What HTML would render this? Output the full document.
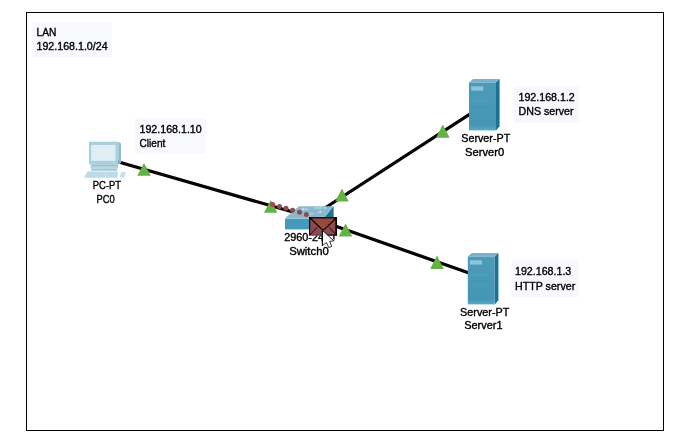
<!DOCTYPE html>
<html>
<head>
<meta charset="utf-8">
<title>LAN topology</title>
<style>
html,body{margin:0;padding:0;background:#fff;}
body{width:696px;height:447px;overflow:hidden;}
svg{display:block;}
text{font-family:"Liberation Sans",sans-serif;font-size:10.67px;fill:#000;stroke:#000;stroke-width:0.36px;filter:grayscale(1);}
</style>
</head>
<body>
<svg width="696" height="447" viewBox="0 0 696 447">
  <defs>
    <linearGradient id="srvF" x1="0" y1="0" x2="0" y2="1">
      <stop offset="0" stop-color="#4b9bb9"/>
      <stop offset="0.9" stop-color="#4596b5"/>
      <stop offset="1" stop-color="#5aa9c7"/>
    </linearGradient>
    <linearGradient id="envF" x1="0" y1="0" x2="0" y2="1">
      <stop offset="0" stop-color="#93483f"/>
      <stop offset="1" stop-color="#9a4c3c"/>
    </linearGradient>
    </defs>
  <rect width="696" height="447" fill="#fff"/>
  <!-- frame -->
  <rect x="26.5" y="12.5" width="637" height="418" fill="none" stroke="#000" stroke-width="1"/>

  <!-- note boxes -->
  <rect x="32" y="22" width="80" height="35" fill="#f8f9fd"/>
  <text x="36.5" y="35.5" textLength="19.9" lengthAdjust="spacingAndGlyphs">LAN</text>
  <text x="36.5" y="50">192.168.1.0/24</text>

  <rect x="135" y="118" width="71" height="36" fill="#f8f9fd"/>
  <text x="139.5" y="132.5">192.168.1.10</text>
  <text x="139.5" y="147" textLength="25.8" lengthAdjust="spacingAndGlyphs">Client</text>

  <rect x="514" y="86" width="65" height="37" fill="#f8f9fd"/>
  <text x="518.5" y="100.8">192.168.1.2</text>
  <text x="518.5" y="115.3">DNS server</text>

  <rect x="511.5" y="259.5" width="67.5" height="37.5" fill="#f8f9fd"/>
  <text x="515" y="275">192.168.1.3</text>
  <text x="515" y="289.5">HTTP server</text>

  <!-- links -->
  <g stroke="#070303" stroke-width="3.25" stroke-linecap="butt">
    <line x1="104.75" y1="158" x2="309.5" y2="216.8"/>
    <line x1="309.5" y1="218" x2="484.5" y2="104.7"/>
    <line x1="309.5" y1="217" x2="483.3" y2="278"/>
  </g>

  <!-- link lights -->
  <g fill="#62b246">
    <polygon points="144,163 150.8,175.8 137.2,175.8"/>
    <polygon points="270.7,200 277.5,212.8 263.9,212.8"/>
    <polygon points="342,188.5 348.8,201.6 335.2,201.6"/>
    <polygon points="442.8,124.4 449.6,137.8 436,137.8"/>
    <polygon points="345.5,223.6 352.3,236.4 338.7,236.4"/>
    <polygon points="437,255.5 443.8,268.9 430.2,268.9"/>
  </g>

  <!-- PC -->
  <g>
    <!-- monitor side -->
    <polygon points="118.3,141.7 121,143.5 121,163 118.3,164.5" fill="#8bbccd"/>
    <!-- monitor front -->
    <rect x="89" y="141.7" width="29.3" height="22.8" fill="#a9d0de"/>
    <rect x="91.2" y="145" width="24.3" height="15.8" fill="#e2eef6"/>
    <!-- stand -->
    <rect x="91.2" y="164.5" width="26.8" height="2.2" fill="#8fc0d2"/>
    <rect x="90.2" y="166.7" width="27.8" height="1.8" fill="#b3d6e3"/>
    <rect x="91.2" y="168.5" width="26" height="2.2" fill="#9cc8d8"/>
    <!-- keyboard -->
    <polygon points="87.3,171.6 118.4,171.6 117,177.8 84,177.8" fill="#bcdae7"/>
    <line x1="105.8" y1="171.6" x2="105.5" y2="177.8" stroke="#dcebf3" stroke-width="0.8"/>
    <!-- mouse -->
    <polygon points="121.2,172 125.8,172 124.6,177.4 119.6,177.4" fill="#c7dfea"/>
  </g>
  <text x="92.7" y="188.5" textLength="28.3" lengthAdjust="spacingAndGlyphs">PC-PT</text>
  <text x="96.5" y="202.5" textLength="18.2" lengthAdjust="spacingAndGlyphs">PC0</text>

  <!-- Servers -->
  <g transform="translate(469,79)">
      <!-- top -->
      <polygon points="0,3.5 4,0 30.6,0 27,3.5" fill="#7cb2c9"/>
      <!-- side -->
      <polygon points="27,3.5 30.6,0 30.6,47.3 27,51.4" fill="#1a7297"/>
      <!-- front -->
      <rect x="0" y="3.5" width="27" height="47.9" fill="url(#srvF)"/>
      <rect x="2.2" y="7.3" width="12" height="4.3" fill="#8ec5db"/>
      <rect x="3" y="21.5" width="16" height="0.8" fill="#5aa6c2"/>
      <rect x="3" y="27.5" width="16" height="0.8" fill="#418fad"/>
    </g>
  <text x="461.3" y="141.6" textLength="48.9" lengthAdjust="spacingAndGlyphs">Server-PT</text>
  <text x="465" y="155.6" textLength="39.2" lengthAdjust="spacingAndGlyphs">Server0</text>
  <g transform="translate(467.8,253)">
      <!-- top -->
      <polygon points="0,3.5 4,0 30.6,0 27,3.5" fill="#7cb2c9"/>
      <!-- side -->
      <polygon points="27,3.5 30.6,0 30.6,47.3 27,51.4" fill="#1a7297"/>
      <!-- front -->
      <rect x="0" y="3.5" width="27" height="47.9" fill="url(#srvF)"/>
      <rect x="2.2" y="7.3" width="12" height="4.3" fill="#8ec5db"/>
      <rect x="3" y="21.5" width="16" height="0.8" fill="#5aa6c2"/>
      <rect x="3" y="27.5" width="16" height="0.8" fill="#418fad"/>
    </g>
  <text x="460.1" y="315.5" textLength="49.2" lengthAdjust="spacingAndGlyphs">Server-PT</text>
  <text x="464.2" y="329.4" textLength="38.4" lengthAdjust="spacingAndGlyphs">Server1</text>

  <!-- Switch -->
  <g>
    <polygon points="285,218.3 299,206.2 333.6,206.2 324,218.3" fill="#88b9cc"/>
    <polygon points="324,218.3 333.6,206.2 333.6,218 324,229.4" fill="#1a7498"/>
    <rect x="285" y="218.3" width="39" height="11.1" fill="#4699bd"/>
    <rect x="285" y="218.1" width="39" height="0.9" fill="#9fcbdc"/>
    <g stroke="#eef6fa" stroke-width="0.8" fill="none" stroke-linecap="round" opacity="0.75">
      <path d="M302,209.2 L308,209.2 M303.6,208.2 L302,209.2 L303.6,210.2"/>
      <path d="M314,208 L322,208 M324.5,207.4 L326,208 L324.5,208.8"/>
      <path d="M308,214 L313,214"/>
      <path d="M318,212.6 L321,211.8 M320,211.2 L321.4,211.7 L320.6,212.8"/>
    </g>
  </g>
  <text x="284.2" y="241" textLength="53" lengthAdjust="spacingAndGlyphs">2960-24TT</text>
  <text x="289.2" y="254.6" textLength="39.5" lengthAdjust="spacingAndGlyphs">Switch0</text>

  <!-- packet trail -->
  <g fill="#8f4a52">
    <circle cx="272.6" cy="204.4" r="2.5" fill="#a84a44"/>
    <circle cx="279.5" cy="206.5" r="2.5"/>
    <circle cx="286" cy="208.3" r="2.5"/>
    <circle cx="292.6" cy="210.3" r="2.5"/>
    <circle cx="299.5" cy="212.3" r="2.5"/>
    <circle cx="306.4" cy="214.5" r="2.5"/>
  </g>

  <!-- envelope -->
  <g>
    <rect x="309.2" y="217.2" width="27.8" height="18.3" fill="#8c4a50"/>
    <polygon points="309.6,217.6 323.2,229.8 336.8,217.6" fill="url(#envF)"/>
    <path d="M309.8,235 L317,227.4 M336.2,235 L329.2,227.4" stroke="#1a0505" stroke-width="0.9" fill="none"/>
    <path d="M309.8,217.8 L321.2,228.6 Q323.2,230.4 325.2,228.6 L336.4,217.8" fill="none" stroke="#0a0000" stroke-width="1.2"/>
    <path d="M309.2,217.8 H337" stroke="#000" stroke-width="1.2" fill="none"/>
    <path d="M336.2,217.2 V235.6" stroke="#000" stroke-width="1.7" fill="none"/>
    <path d="M309.7,217.2 V235.6" stroke="#000" stroke-width="1" fill="none"/>
    <path d="M309.2,235.2 H323" stroke="#000" stroke-width="0.6" fill="none" opacity="0.5"/>
    <path d="M323,235.1 H337" stroke="#000" stroke-width="1.1" fill="none"/>
  </g>

  <!-- cursor -->
  <path d="M330.6,238.6 L333.8,240.8 L329.6,241.4 L331.8,246.4 L328.8,247.6" fill="none" stroke="#fff" stroke-width="2.4" stroke-linejoin="round" opacity="0.7"/>
  <path d="M322.4,230.4 L322.4,245.6 L326.4,242.6 L328.8,247.6 L331.8,246.4 L329.6,241.4 L333.8,240.8 Z" fill="#fff" stroke="#1a1a1a" stroke-width="0.9" stroke-linejoin="miter"/>
  <path d="M322.4,230.4 L322.4,245.6" fill="none" stroke="#000" stroke-width="1"/>
</svg>
</body>
</html>
